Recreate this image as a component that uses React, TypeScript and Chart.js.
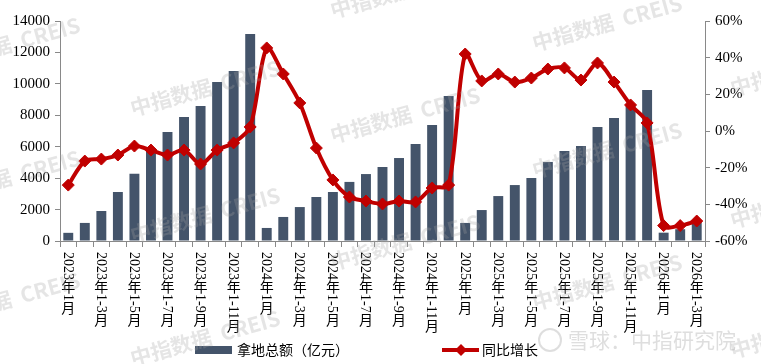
import React, { useEffect, useRef } from "react";
import { Chart, registerables } from "chart.js";

Chart.register(...registerables);

const categories = [
  "2023年1月", "2023年1-2月", "2023年1-3月", "2023年1-4月", "2023年1-5月", "2023年1-6月",
  "2023年1-7月", "2023年1-8月", "2023年1-9月", "2023年1-10月", "2023年1-11月", "2023年1-12月",
  "2024年1月", "2024年1-2月", "2024年1-3月", "2024年1-4月", "2024年1-5月", "2024年1-6月",
  "2024年1-7月", "2024年1-8月", "2024年1-9月", "2024年1-10月", "2024年1-11月", "2024年1-12月",
  "2025年1月", "2025年1-2月", "2025年1-3月", "2025年1-4月", "2025年1-5月", "2025年1-6月",
  "2025年1-7月", "2025年1-8月", "2025年1-9月", "2025年1-10月", "2025年1-11月", "2025年1-12月",
  "2026年1月", "2026年1-2月", "2026年1-3月",
];

const landAmount = [
  520, 1150, 1910, 3120, 4280, 5900, 6930, 7890, 8590, 10120, 10820, 13170,
  830, 1530, 2160, 2800, 3120, 3760, 4260, 4710, 5280, 6170, 7380, 9230,
  1150, 1970, 2860, 3560, 4010, 5030, 5730, 6050, 7260, 7830, 8590, 9610,
  530, 750, 1200,
];

const yoyGrowth = [
  -29.5, -16.4, -15.3, -13.1, -8.2, -10.4, -13.1, -10.4, -18.0, -10.4, -6.5, 2.2,
  45.3, 31.1, 15.3, -9.3, -26.7, -36.0, -38.2, -39.8, -38.2, -38.7, -31.1, -29.5,
  42.0, 27.3, 31.1, 26.7, 28.9, 33.8, 34.4, 27.8, 37.1, 26.7, 14.2, 4.4,
  -51.6, -51.6, -49.1,
];

const leftAxisRange = [0, 14000, 2000];
const rightAxisRange = [-60, 60, 20];

const seriesNames = ["拿地总额（亿元）", "同比增长"];

const BAR_COLOR = "#44546A";
const LINE_COLOR = "#C00000";
const AXIS_COLOR = "#898989";
const CJK_FONT = '"Noto Sans CJK SC", "Noto Sans", sans-serif';
const NUM_FONT = '"Liberation Serif", "Noto Sans CJK SC", serif';

function drawVerticalLabel(ctx: CanvasRenderingContext2D, text: string, cx: number, y0: number) {
  const size = 14;
  let y = y0;
  let run = "";
  const flush = () => {
    if (!run) return;
    ctx.font = `${size}px ${NUM_FONT}`;
    const w = ctx.measureText(run).width;
    ctx.save();
    ctx.translate(cx, y);
    ctx.rotate(Math.PI / 2);
    ctx.textAlign = "left";
    ctx.textBaseline = "middle";
    ctx.fillText(run, 0, 1);
    ctx.restore();
    y += w;
    run = "";
  };
  for (const ch of text) {
    if (ch.charCodeAt(0) > 0x2e80) {
      flush();
      ctx.font = `${size}px ${CJK_FONT}`;
      ctx.textAlign = "center";
      ctx.textBaseline = "middle";
      ctx.fillText(ch, cx, y + size / 2);
      y += size;
    } else {
      run += ch;
    }
  }
  flush();
}

function drawWatermark(ctx: CanvasRenderingContext2D, cx: number, cy: number) {
  ctx.save();
  ctx.translate(cx, cy);
  ctx.rotate(-0.27);
  ctx.textAlign = "center";
  ctx.textBaseline = "middle";
  ctx.fillStyle = "rgba(160,160,160,0.28)";
  ctx.font = `bold 21px ${CJK_FONT}`;
  ctx.fillText("中指数据  CREIS", 0, 0);
  ctx.restore();
}

const overlayPlugin = {
  id: "overlay",
  afterDraw(chart: any) {
    const ctx: CanvasRenderingContext2D = chart.ctx;
    const xs = chart.scales.x;
    ctx.save();
    ctx.fillStyle = "#000";
    for (let i = 0; i < categories.length; i += 2) {
      drawVerticalLabel(ctx, categories[i], xs.getPixelForValue(i), xs.top + 11);
    }

    // legend
    const ly = 350;
    ctx.fillStyle = BAR_COLOR;
    ctx.fillRect(195, ly - 4, 37, 8);
    ctx.fillStyle = "#000";
    ctx.font = `14px ${CJK_FONT}`;
    ctx.textAlign = "left";
    ctx.textBaseline = "middle";
    ctx.fillText(seriesNames[0], 237, ly);
    ctx.strokeStyle = LINE_COLOR;
    ctx.lineWidth = 4;
    ctx.beginPath();
    ctx.moveTo(442, ly);
    ctx.lineTo(479, ly);
    ctx.stroke();
    ctx.fillStyle = LINE_COLOR;
    ctx.beginPath();
    ctx.moveTo(461, ly - 6);
    ctx.lineTo(467, ly);
    ctx.lineTo(461, ly + 6);
    ctx.lineTo(455, ly);
    ctx.closePath();
    ctx.fill();
    ctx.fillStyle = "#000";
    ctx.fillText(seriesNames[1], 482, ly);

    // watermarks
    const marks = [
      [205, 88], [205, 215], [205, 338],
      [405, 115], [405, 242], [405, -10],
      [607, 23], [607, 150], [607, 282],
      [5, 45], [5, 178], [5, 300],
      [805, 68], [805, 200], [805, 330],
    ];
    for (const [mx, my] of marks) drawWatermark(ctx, mx, my);

    ctx.fillStyle = "rgba(160,160,160,0.35)";
    ctx.font = `21px ${CJK_FONT}`;
    ctx.textAlign = "left";
    ctx.textBaseline = "middle";
    ctx.fillText("雪球：中指研究院", 568, 340);
    ctx.strokeStyle = "rgba(160,160,160,0.35)";
    ctx.lineWidth = 2;
    ctx.beginPath();
    ctx.arc(550, 340, 11, 0, Math.PI * 2);
    ctx.stroke();
    ctx.restore();
  },
};

export default function App() {
  const canvasRef = useRef<HTMLCanvasElement | null>(null);

  useEffect(() => {
    const canvas = canvasRef.current;
    if (!canvas) return;
    const chart = new Chart(canvas, {
      type: "bar",
      data: {
        labels: categories,
        datasets: [
          {
            type: "line",
            label: seriesNames[1],
            data: yoyGrowth,
            yAxisID: "y1",
            borderColor: LINE_COLOR,
            backgroundColor: LINE_COLOR,
            borderWidth: 4,
            tension: 0.3,
            pointStyle: "rectRot",
            pointRadius: 6,
            pointBackgroundColor: LINE_COLOR,
            pointBorderColor: LINE_COLOR,
            pointBorderWidth: 1,
            order: 0,
          } as any,
          {
            type: "bar",
            label: seriesNames[0],
            data: landAmount,
            yAxisID: "y",
            backgroundColor: BAR_COLOR,
            barPercentage: 0.6,
            categoryPercentage: 1,
            order: 1,
          },
        ],
      },
      options: {
        responsive: false,
        animation: false,
        layout: { padding: { top: 21, left: 0, right: 0, bottom: 0 } },
        plugins: { legend: { display: false }, tooltip: { enabled: false } },
        scales: {
          x: {
            offset: true,
            grid: { display: true, drawOnChartArea: false, drawTicks: true, tickLength: 6, color: AXIS_COLOR, offset: true },
            border: { display: true, color: AXIS_COLOR },
            ticks: { display: false },
            afterFit: (s: any) => { s.height = 123; },
          },
          y: {
            position: "left",
            min: leftAxisRange[0],
            max: leftAxisRange[1],
            ticks: {
              stepSize: leftAxisRange[2],
              color: "#000",
              padding: 5,
              font: { family: NUM_FONT, size: 15 },
              callback: (v: any) => String(v),
            },
            grid: { drawOnChartArea: false, drawTicks: true, tickLength: 5, color: AXIS_COLOR },
            border: { display: true, color: AXIS_COLOR },
            afterFit: (s: any) => { s.width = 60; },
          },
          y1: {
            position: "right",
            min: rightAxisRange[0],
            max: rightAxisRange[1],
            ticks: {
              stepSize: rightAxisRange[2],
              color: "#000",
              padding: 5,
              font: { family: NUM_FONT, size: 15 },
              callback: (v: any) => `${v}%`,
            },
            grid: { drawOnChartArea: false, drawTicks: true, tickLength: 5, color: AXIS_COLOR },
            border: { display: true, color: AXIS_COLOR },
            afterFit: (s: any) => { s.width = 56; },
          },
        },
      } as any,
      plugins: [overlayPlugin],
    });
    return () => chart.destroy();
  }, []);

  return (
    <div style={{ position: "fixed", left: 0, top: 0, width: 761, height: 364, background: "#fff" }}>
      <canvas ref={canvasRef} width={761} height={364} style={{ display: "block", width: 761, height: 364 }} />
    </div>
  );
}
